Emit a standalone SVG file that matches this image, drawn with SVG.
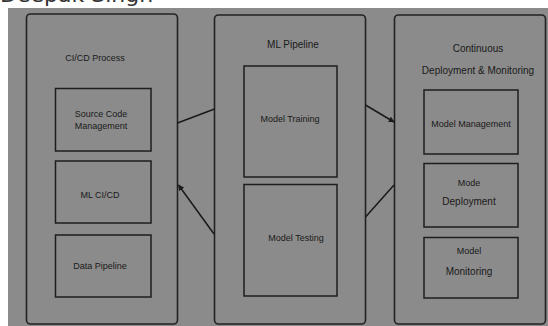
<svg xmlns="http://www.w3.org/2000/svg" width="548" height="326" viewBox="0 0 548 326">
  <style>
    .outer { fill: #8b8b8b; stroke: #222; stroke-width: 1.6; }
    .inner { fill: #8b8b8b; stroke: #1e1e1e; stroke-width: 1.5; }
    .t { font-family: "Liberation Sans", Arial, sans-serif; font-size: 9px; fill: #1a1a1a; text-anchor: middle; }
    .h { font-size: 10px; }
    .conn { stroke: #1a1a1a; stroke-width: 1.5; fill: none; }
  </style>
  <defs>
    <marker id="arr" viewBox="0 0 10 10" refX="9" refY="5" markerWidth="6" markerHeight="6" orient="auto-start-reverse" markerUnits="userSpaceOnUse">
      <path d="M0,0 L10,5 L0,10 z" fill="#1a1a1a"/>
    </marker>
  </defs>
  <rect x="0" y="0" width="548" height="326" fill="#ffffff"/>
  <rect x="8" y="8" width="540" height="318" fill="#8b8b8b"/>
  <text x="0" y="2" font-family="DejaVu Sans, sans-serif" font-size="22" fill="#333333">Deepak Singh</text>

  <g id="cicd">
    <rect class="outer" x="26.5" y="14" width="151" height="310" rx="4"/>
    <text class="t" x="95" y="61">CI/CD Process</text>
  </g>
  <g id="scm">
    <rect class="inner" x="55.5" y="88.5" width="95.5" height="62.5"/>
    <text class="t" x="101" y="117">Source Code</text>
    <text class="t" x="101" y="129">Management</text>
  </g>
  <g id="mlcicd">
    <rect class="inner" x="55.5" y="161" width="95.5" height="62"/>
    <text class="t" x="100" y="198">ML CI/CD</text>
  </g>
  <g id="datapipeline">
    <rect class="inner" x="55.5" y="235" width="95.5" height="62"/>
    <text class="t" x="100" y="269">Data Pipeline</text>
  </g>

  <g id="mlpipeline">
    <rect class="outer" x="214.5" y="15" width="151" height="309" rx="4"/>
    <text class="t h" x="293" y="48">ML Pipeline</text>
  </g>
  <g id="training">
    <rect class="inner" x="244" y="66" width="93" height="111"/>
    <text class="t" x="290" y="122">Model Training</text>
  </g>
  <g id="testing">
    <rect class="inner" x="244" y="184.5" width="93" height="111.5"/>
    <text class="t" x="296" y="241">Model Testing</text>
  </g>

  <g id="cdm">
    <rect class="outer" x="394.5" y="15" width="151" height="309" rx="4"/>
    <text class="t h" x="478" y="52">Continuous</text>
    <text class="t h" x="478" y="74">Deployment &amp; Monitoring</text>
  </g>
  <g id="management">
    <rect class="inner" x="424" y="90" width="94" height="64"/>
    <text class="t" x="471" y="127">Model Management</text>
  </g>
  <g id="deployment">
    <rect class="inner" x="424" y="163.5" width="94" height="63.5"/>
    <text class="t" x="469" y="186">Mode</text>
    <text class="t h" x="469" y="205">Deployment</text>
  </g>
  <g id="monitoring">
    <rect class="inner" x="424" y="237.5" width="94" height="60.5"/>
    <text class="t" x="469" y="254">Model</text>
    <text class="t h" x="469" y="275">Monitoring</text>
  </g>

  <g id="connectors">
    <line class="conn" x1="177.5" y1="123" x2="214.5" y2="109"/>
    <line class="conn" x1="214" y1="234" x2="178.5" y2="185" marker-end="url(#arr)"/>
    <line class="conn" x1="365.5" y1="105" x2="394" y2="122" marker-end="url(#arr)"/>
    <line class="conn" x1="365.5" y1="217" x2="394" y2="185"/>
  </g>
</svg>
